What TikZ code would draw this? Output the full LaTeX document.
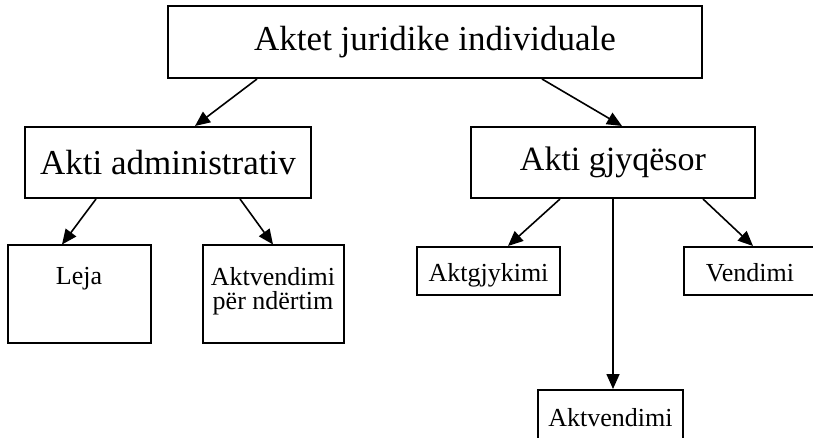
\documentclass[tikz,border=0pt]{standalone}
\usepackage{fontspec}
\setmainfont{Liberation Serif}
\usetikzlibrary{arrows.meta}
\begin{document}
\begin{tikzpicture}[x=1pt,y=-1pt,
  box/.style={draw, line width=2pt, inner sep=0pt, align=center},
  big/.style={font=\fontsize{35}{40}\selectfont},
  small/.style={font=\fontsize{26}{24}\selectfont},
  oneline/.style={text height=21pt, text depth=0pt},
  conn/.style={line width=1.6pt, -{Triangle[length=15pt,width=13pt]}}]
\useasboundingbox (0,0) rectangle (813,438);
% boxes
\node[box, big, minimum width=534pt, minimum height=72pt] (top) at (435,42) {Aktet juridike individuale};
\node[box, big, minimum width=286pt, minimum height=71pt] (adm) at (168,162.5) {Akti administrativ};
\node[box, font=\fontsize{34}{40}\selectfont, minimum width=284pt, minimum height=71pt] (gjy) at (613,162.5) {Akti gjyqësor};
\node[box, small, minimum width=143pt, minimum height=97pt] (leja) at (79,294) {Leja\\\strut\vspace{6pt}};
\node[box, small, minimum width=141pt, minimum height=97pt] (akt) at (273,294) {Aktvendimi\\për ndërtim\vspace{6pt}};
\node[box, small, oneline, minimum width=143pt, minimum height=48pt] (aktg) at (488.5,271) {Aktgjykimi};
\node[box, small, oneline, minimum width=132pt, minimum height=48pt] (vend) at (750,271) {Vendimi};
\node[box, small, oneline, minimum width=145pt, minimum height=52pt] (aktv) at (610.5,416) {Aktvendimi};
% connectors
\draw[conn] ([xshift=-178pt]top.south) -- ([xshift=27pt]adm.north);
\draw[conn] ([xshift=107pt]top.south) -- ([xshift=9pt]gjy.north);
\draw[conn] ([xshift=-72pt]adm.south) -- ([xshift=-17pt]leja.north);
\draw[conn] ([xshift=72pt]adm.south) -- ([xshift=0pt]akt.north);
\draw[conn] ([xshift=-53pt]gjy.south) -- ([xshift=19.5pt]aktg.north);
\draw[conn] (gjy.south) -- (gjy.south |- aktv.north);
\draw[conn] ([xshift=90pt]gjy.south) -- ([xshift=3pt]vend.north);
\end{tikzpicture}
\end{document}
